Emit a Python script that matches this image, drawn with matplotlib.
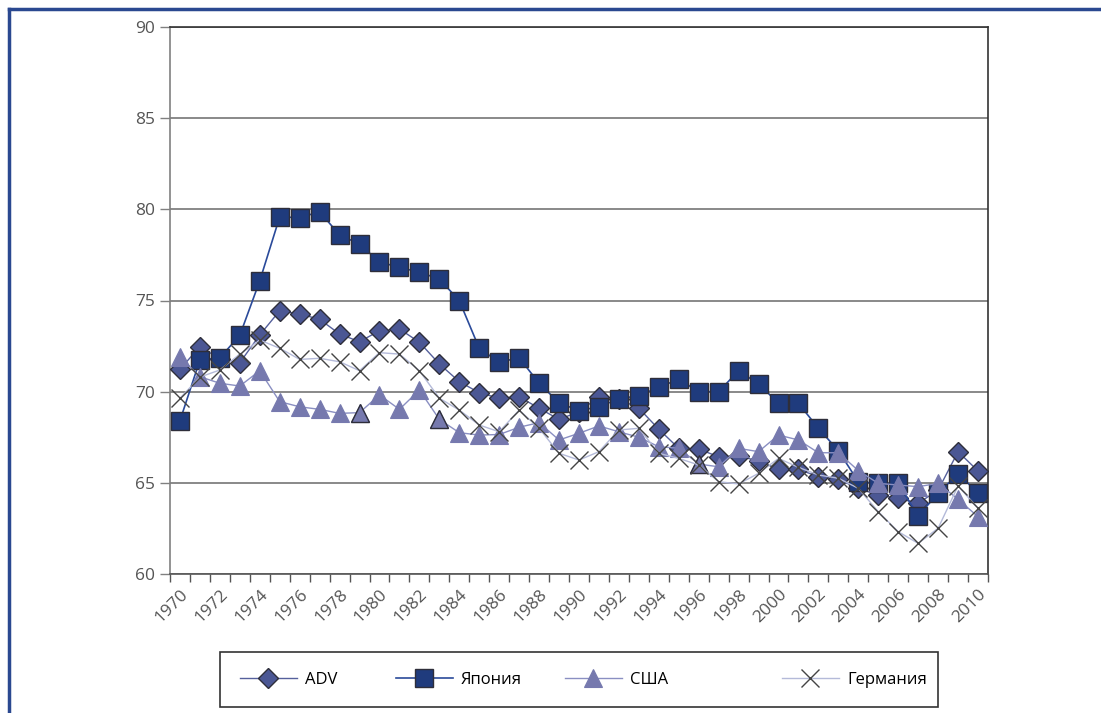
import matplotlib.pyplot as plt
from matplotlib.lines import Line2D
from matplotlib.patches import Rectangle

# categories
years = list(range(1970, 2011))

# series values
adv = [71.23, 72.47, 71.80, 71.59, 73.11, 74.44, 74.26, 73.97, 73.16, 72.74,
       73.34, 73.44, 72.71, 71.52, 70.55, 69.94, 69.64, 69.72, 69.09, 68.48,
       68.90, 69.72, 69.60, 69.09, 67.94, 66.89, 66.85, 66.43, 66.47, 66.20,
       65.74, 65.74, 65.34, 65.19, 64.70, 64.33, 64.15, 63.88, 64.60, 66.71, 65.65]
japan = [68.41, 71.74, 71.86, 73.09, 76.08, 79.59, 79.54, 79.87, 78.59, 78.10,
         77.11, 76.82, 76.55, 76.18, 74.99, 72.38, 71.61, 71.86, 70.46, 69.39,
         68.96, 69.17, 69.61, 69.78, 70.24, 70.68, 70.00, 70.00, 71.15, 70.42,
         69.37, 69.36, 67.99, 66.76, 65.06, 64.97, 64.97, 63.18, 64.43, 65.48, 64.46]
usa = [71.92, 70.82, 70.46, 70.31, 71.15, 69.45, 69.17, 69.03, 68.81, 68.85,
       69.82, 69.03, 70.09, 68.48, 67.75, 67.62, 67.65, 68.05, 68.30, 67.35,
       67.72, 68.12, 67.80, 67.50, 66.98, 66.90, 66.03, 65.88, 66.89, 66.71,
       67.62, 67.35, 66.65, 66.65, 65.67, 64.97, 64.88, 64.79, 64.97, 64.10, 63.14]
germany = [69.64, 70.80, 71.19, 72.06, 72.83, 72.38, 71.77, 71.83, 71.64, 71.15,
           72.14, 72.06, 71.15, 69.64, 68.99, 68.17, 67.80, 68.99, 67.99, 66.62,
           66.25, 66.71, 67.90, 67.99, 66.62, 66.34, 65.98, 65.06, 64.94, 65.52,
           66.34, 65.85, 65.43, 65.25, 64.70, 63.42, 62.32, 61.68, 62.51, 64.83, 63.60]
labels = ["ADV", "Япония", "США", "Германия"]
usa_outlined = [9, 13, 26]  # triangles drawn with a dark outline

plt.rcParams['font.family'] = ['Open Sans', 'DejaVu Sans']

fig = plt.figure(figsize=(11.01, 7.13), dpi=100)
ax = fig.add_axes([170 / 1101, 1 - 574 / 713, 818 / 1101, 547 / 713])

x = list(range(len(years)))

h_adv, = ax.plot(x, adv, color="#55609c", lw=1.0, marker="D", ms=10.5,
                 mfc="#4b5794", mec="#2e2e3a", mew=1.0, zorder=3)
h_jap, = ax.plot(x, japan, color="#2a4a9a", lw=1.2, marker="s", ms=13.5,
                 mfc="#1f3b7d", mec="#2e2e3a", mew=1.0, zorder=4)
h_usa, = ax.plot(x, usa, color="#8a8fc2", lw=1.0, marker="^", ms=13.5,
                 mfc="#7679ae", mec="#7679ae", mew=0.8, zorder=5)
ax.plot(x, usa, ls="none", marker="^", ms=13.5, mfc="#7679ae", mec="#2e2e3a",
        mew=1.0, markevery=usa_outlined, zorder=5)
h_ger, = ax.plot(x, germany, color="#b4bad9", lw=1.0, marker="x", ms=13.5,
                 mec="#444444", mew=1.0, zorder=6)

ax.set_xlim(-0.5, len(years) - 0.5)
ax.set_ylim(60, 90)
ax.set_yticks([60, 65, 70, 75, 80, 85, 90])
ax.yaxis.grid(True, color="#808080", lw=1.3)
ax.set_axisbelow(True)

# category axis: tick marks between categories, labels every second year
ax.set_xticks([i - 0.5 for i in range(len(years) + 1)], minor=True)
ax.set_xticks(x[::2])
ax.set_xticklabels([str(y) for y in years[::2]], rotation=45, ha="right",
                   va="top", rotation_mode="anchor")
ax.tick_params(axis="x", which="major", length=0, pad=9, labelsize=12.5,
               labelcolor="#555555")
ax.tick_params(axis="x", which="minor", length=6, width=1.0, color="#555555",
               direction="out")
ax.tick_params(axis="y", length=7, width=1.0, color="#808080", pad=4,
               labelsize=12.5, labelcolor="#555555")

ax.spines["left"].set_color("#808080")
ax.spines["bottom"].set_color("#555555")
ax.spines["top"].set_color("#333333")
ax.spines["right"].set_color("#333333")
for s in ax.spines.values():
    s.set_linewidth(1.2)

# legend: frame plus one entry per series, placed as in the reference
fig.patches.append(Rectangle((220 / 1101, 1 - 707 / 713), 718 / 1101, 55 / 713,
                             transform=fig.transFigure, fill=False,
                             edgecolor="#333333", lw=1.2))
legend_x = [240, 396, 565, 782]
for h, lab, lx in zip([h_adv, h_jap, h_usa, h_ger], labels, legend_x):
    fig.legend([h], [lab], loc="center left",
               bbox_to_anchor=(lx / 1101, 1 - 680 / 713),
               frameon=False, fontsize=12, handlelength=3.4,
               handletextpad=0.5, borderpad=0, borderaxespad=0)

# blue page frame
fig.lines.append(Line2D([9 / 1101, 9 / 1101], [0, 1 - 9 / 713],
                        transform=fig.transFigure, color="#2a4890", lw=2.5))
fig.lines.append(Line2D([9 / 1101, 1], [1 - 9 / 713, 1 - 9 / 713],
                        transform=fig.transFigure, color="#2a4890", lw=2.5))

plt.savefig("out.png", dpi=100)
